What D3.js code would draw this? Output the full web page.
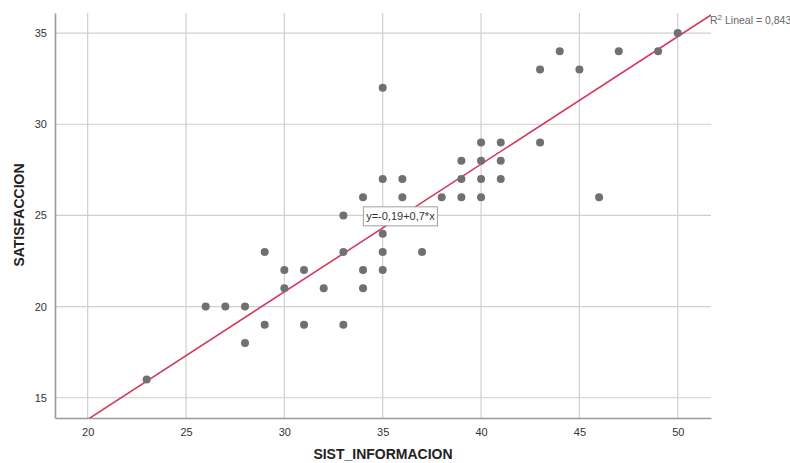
<!DOCTYPE html>
<html>
<head>
<meta charset="utf-8">
<script src="https://cdn.jsdelivr.net/npm/d3@7"></script>
<style>
  body { margin: 0; background: #fff; }
  text { font-family: "Liberation Sans", Arial, sans-serif; }
</style>
</head>
<body>
<div id="chart"></div>
<script>
// scatter data
var sistInformacion = [23, 26, 27, 28, 28, 29, 29, 30, 30, 31, 31, 32, 33, 33, 33, 34, 34, 34,
  35, 35, 35, 35, 35, 36, 36, 37, 38, 39, 39, 39, 40, 40, 40, 40, 41, 41, 41, 43, 43, 44, 45, 46, 47, 49, 50];
var satisfaccion = [16, 20, 20, 20, 18, 23, 19, 22, 21, 22, 19, 21, 25, 23, 19, 26, 22, 21,
  32, 27, 24, 23, 22, 27, 26, 23, 26, 28, 27, 26, 29, 28, 27, 26, 29, 28, 27, 33, 29, 34, 33, 26, 34, 34, 35];
var xTicks = [20, 25, 30, 35, 40, 45, 50];
var yTicks = [15, 20, 25, 30, 35];
var fit = { a: -0.19, b: 0.7, r2: "0,843" };

var width = 790, height = 463;
var margin = { top: 13, right: 79, bottom: 45, left: 55 };

var svg = d3.select("#chart").append("svg")
    .attr("width", width)
    .attr("height", height);

var x = d3.scaleLinear().domain([18.34, 51.69]).range([margin.left, width - margin.right]);
var y = d3.scaleLinear().domain([13.89, 36.1]).range([height - margin.bottom, margin.top]);

// grid
svg.append("g").selectAll("line").data(xTicks).enter().append("line")
    .attr("x1", d => x(d)).attr("x2", d => x(d))
    .attr("y1", y.range()[1]).attr("y2", y.range()[0])
    .attr("stroke", "#cfcfcf").attr("stroke-width", 1.2);
svg.append("g").selectAll("line").data(yTicks).enter().append("line")
    .attr("x1", x.range()[0]).attr("x2", x.range()[1])
    .attr("y1", d => y(d)).attr("y2", d => y(d))
    .attr("stroke", "#cfcfcf").attr("stroke-width", 1.2);

// axes
var xAxis = svg.append("g")
    .attr("transform", "translate(0," + y.range()[0] + ")")
    .call(d3.axisBottom(x).tickValues(xTicks).tickSize(0).tickPadding(10));
var yAxis = svg.append("g")
    .attr("transform", "translate(" + x.range()[0] + ",0)")
    .call(d3.axisLeft(y).tickValues(yTicks).tickSize(0).tickPadding(8));
[xAxis, yAxis].forEach(function(g) {
  g.select(".domain").attr("stroke", "#9a9a9a").attr("stroke-width", 1.6);
  g.selectAll("text").attr("fill", "#333").style("font-size", "11px")
    .style("font-family", "'Liberation Sans', Arial, sans-serif");
});

// regression line, clipped to the plot
svg.append("clipPath").attr("id", "clip").append("rect")
    .attr("x", x.range()[0]).attr("y", y.range()[1])
    .attr("width", x.range()[1] - x.range()[0])
    .attr("height", y.range()[0] - y.range()[1]);
var xd = x.domain();
svg.append("line")
    .attr("clip-path", "url(#clip)")
    .attr("x1", x(xd[0])).attr("y1", y(fit.a + fit.b * xd[0]))
    .attr("x2", x(xd[1])).attr("y2", y(fit.a + fit.b * xd[1]))
    .attr("stroke", "#d63a60").attr("stroke-width", 1.6);

// points
svg.append("g").selectAll("circle").data(sistInformacion).enter().append("circle")
    .attr("cx", d => x(d))
    .attr("cy", (d, i) => y(satisfaccion[i]))
    .attr("r", 4)
    .attr("fill", "#707070");

// equation box
var eq = svg.append("g").attr("transform", "translate(" + x(35.9) + "," + y(24.95) + ")");
eq.append("rect").attr("x", -37).attr("y", -9.5).attr("width", 74).attr("height", 19)
    .attr("fill", "#fff").attr("stroke", "#a0a0a0").attr("stroke-width", 1);
eq.append("text").attr("text-anchor", "middle").attr("dy", "0.35em")
    .style("font-size", "11px").attr("fill", "#333").text("y=-0,19+0,7*x");

// R2 label
var r2 = svg.append("text")
    .attr("x", x.range()[1] - 1).attr("y", 24)
    .style("font-size", "10.5px").attr("fill", "#666");
r2.append("tspan").text("R");
r2.append("tspan").attr("dy", -4).style("font-size", "8px").text("2");
r2.append("tspan").attr("dy", 4).text(" Lineal = " + fit.r2);

// axis titles
svg.append("text")
    .attr("x", (x.range()[0] + x.range()[1]) / 2).attr("y", 459)
    .attr("text-anchor", "middle")
    .style("font-size", "14px").style("font-weight", "bold").attr("fill", "#222")
    .text("SIST_INFORMACION");
svg.append("text")
    .attr("transform", "translate(24,215) rotate(-90)")
    .attr("text-anchor", "middle")
    .style("font-size", "14px").style("font-weight", "bold").attr("fill", "#222")
    .text("SATISFACCION");
</script>
</body>
</html>
